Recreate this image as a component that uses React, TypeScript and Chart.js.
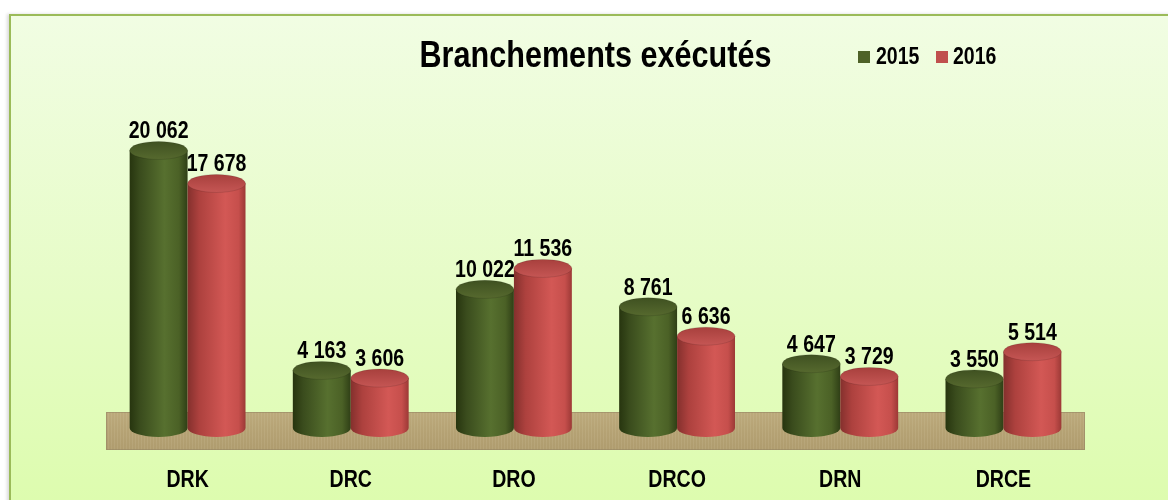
import React, { useEffect, useRef } from "react";
import { Chart, registerables } from "chart.js";

Chart.register(...registerables);

const categories = ["DRK", "DRC", "DRO", "DRCO", "DRN", "DRCE"];
const series2015 = [20062, 4163, 10022, 8761, 4647, 3550];
const series2016 = [17678, 3606, 11536, 6636, 3729, 5514];
const seriesLabels = ["2015", "2016"];
const title = "Branchements exécutés";

const FONT = '"Liberation Sans", Arial, sans-serif';
const SX = 0.85; // horizontal condensing to mimic Arial Narrow
const GREEN = "#4f6228";
const RED = "#c0504d";

const fmt = (v: number) => String(v).replace(/\B(?=(\d{3})+(?!\d))/g, " ");

const sideStops: Record<string, [number, string][]> = {
  green: [
    [0, "#27350f"],
    [0.18, "#3a4c1d"],
    [0.6, "#57702f"],
    [0.85, "#4b6126"],
    [1, "#2f3f16"],
  ],
  red: [
    [0, "#84302d"],
    [0.2, "#ad413e"],
    [0.65, "#d35855"],
    [0.88, "#c64f4c"],
    [1, "#9c3936"],
  ],
};
const topColors: Record<string, [string, string]> = {
  green: ["#3f5121", "#56692e"],
  red: ["#a8403d", "#c55654"],
};

function narrowText(ctx: CanvasRenderingContext2D, text: string, x: number, y: number, size: number) {
  ctx.save();
  ctx.translate(x, y);
  ctx.scale(SX, 1);
  ctx.font = `bold ${size}px ${FONT}`;
  ctx.fillStyle = "#000";
  ctx.textAlign = "center";
  ctx.textBaseline = "alphabetic";
  ctx.fillText(text, 0, 0);
  ctx.restore();
}

const cylinderPlugin = {
  id: "cylinders",
  beforeDatasetsDraw(chart: any) {
    const { ctx } = chart;
    const xs = chart.scales.x;
    const ys = chart.scales.y;
    const base = ys.getPixelForValue(0);
    const left = xs.left;
    const right = xs.right;
    const top = base - 16;
    const bottom = base + 22;
    ctx.save();
    const g = ctx.createLinearGradient(0, top, 0, bottom);
    g.addColorStop(0, "#bcaa7c");
    g.addColorStop(0.5, "#b5a274");
    g.addColorStop(1, "#af9c6e");
    ctx.fillStyle = g;
    ctx.fillRect(left, top, right - left, bottom - top);
    ctx.globalAlpha = 0.12;
    ctx.strokeStyle = "#e8dcc0";
    ctx.lineWidth = 1;
    for (let x = left + 2; x < right; x += 3) {
      ctx.beginPath();
      ctx.moveTo(x + 0.5, top);
      ctx.lineTo(x + 0.5, bottom);
      ctx.stroke();
    }
    ctx.globalAlpha = 1;
    ctx.strokeStyle = "rgba(150,135,100,0.6)";
    ctx.strokeRect(left + 0.5, top + 0.5, right - left - 1, bottom - top - 1);
    ctx.restore();
    // category labels placed from the x scale
    categories.forEach((c, i) => {
      narrowText(ctx, c, xs.getPixelForValue(i), 487, 23);
    });
  },
  afterDatasetsDraw(chart: any) {
    const { ctx } = chart;
    const ry = 9;
    chart.data.datasets.forEach((ds: any, di: number) => {
      const meta = chart.getDatasetMeta(di);
      const key = di === 0 ? "green" : "red";
      meta.data.forEach((bar: any, i: number) => {
        const { x, y, base, width } = bar.getProps(["x", "y", "base", "width"], true);
        const rx = width / 2;
        const l = x - rx;
        ctx.save();
        const g = ctx.createLinearGradient(l, 0, l + width, 0);
        sideStops[key].forEach(([o, c]) => g.addColorStop(o, c));
        ctx.fillStyle = g;
        ctx.beginPath();
        ctx.moveTo(l, y);
        ctx.lineTo(l, base);
        ctx.ellipse(x, base, rx, ry, 0, Math.PI, 0, true);
        ctx.lineTo(l + width, y);
        ctx.closePath();
        ctx.fill();
        const tg = ctx.createLinearGradient(0, y - ry, 0, y + ry);
        tg.addColorStop(0, topColors[key][0]);
        tg.addColorStop(1, topColors[key][1]);
        ctx.fillStyle = tg;
        ctx.beginPath();
        ctx.ellipse(x, y, rx, ry, 0, 0, Math.PI * 2);
        ctx.fill();
        ctx.strokeStyle = "rgba(0,0,0,0.12)";
        ctx.lineWidth = 1;
        ctx.stroke();
        ctx.restore();
        narrowText(ctx, fmt(ds.data[i]), x, y - ry - 3, 23);
      });
    });
  },
};

export default function App() {
  const ref = useRef<HTMLCanvasElement>(null);
  useEffect(() => {
    if (!ref.current) return;
    const chart = new Chart(ref.current, {
      type: "bar",
      data: {
        labels: categories,
        datasets: [
          { label: seriesLabels[0], data: series2015, backgroundColor: "rgba(0,0,0,0)", categoryPercentage: 0.71, barPercentage: 1 },
          { label: seriesLabels[1], data: series2016, backgroundColor: "rgba(0,0,0,0)", categoryPercentage: 0.71, barPercentage: 1 },
        ],
      },
      options: {
        responsive: false,
        animation: false,
        layout: { padding: { left: 106, right: 83, top: 96, bottom: 72 } },
        plugins: { legend: { display: false }, title: { display: false }, tooltip: { enabled: false } },
        scales: {
          x: {
            grid: { display: false, drawTicks: false, tickLength: 0 },
            border: { display: false },
            ticks: { display: false },
          },
          y: { display: false, min: 0, max: 24000 },
        },
      },
      plugins: [cylinderPlugin],
    });
    return () => chart.destroy();
  }, []);

  const textBase: React.CSSProperties = {
    position: "absolute",
    fontFamily: FONT,
    fontWeight: "bold",
    color: "#000",
    whiteSpace: "nowrap",
  };

  return (
    <div style={{ position: "fixed", left: 0, top: 0, width: 1168, height: 500, overflow: "hidden", background: "#fff" }}>
      <div
        style={{
          position: "absolute",
          left: 9,
          top: 14,
          width: 1200,
          height: 560,
          border: "2px solid #9bbb59",
          background: "linear-gradient(to bottom, #f1fde3 0%, #e6fcc6 50%, #dafca6 100%)",
          boxShadow: "-2px 0 3px rgba(0,0,0,0.15)",
        }}
      />
      <canvas ref={ref} width={1168} height={500} style={{ position: "absolute", left: 0, top: 0 }} />
      <div
        style={{
          ...textBase,
          left: 0,
          width: 1191,
          top: 37,
          textAlign: "center",
          fontSize: 36,
          lineHeight: "36px",
          transform: `scaleX(${SX})`,
          transformOrigin: "595.5px 0",
        }}
      >
        {title}
      </div>
      <div style={{ position: "absolute", left: 858, top: 51, width: 12, height: 12, background: GREEN }} />
      <div style={{ ...textBase, left: 876, top: 45, fontSize: 23, lineHeight: "23px", transform: `scaleX(${SX})`, transformOrigin: "0 0" }}>
        {seriesLabels[0]}
      </div>
      <div style={{ position: "absolute", left: 936, top: 51, width: 12, height: 12, background: RED }} />
      <div style={{ ...textBase, left: 953, top: 45, fontSize: 23, lineHeight: "23px", transform: `scaleX(${SX})`, transformOrigin: "0 0" }}>
        {seriesLabels[1]}
      </div>
    </div>
  );
}
